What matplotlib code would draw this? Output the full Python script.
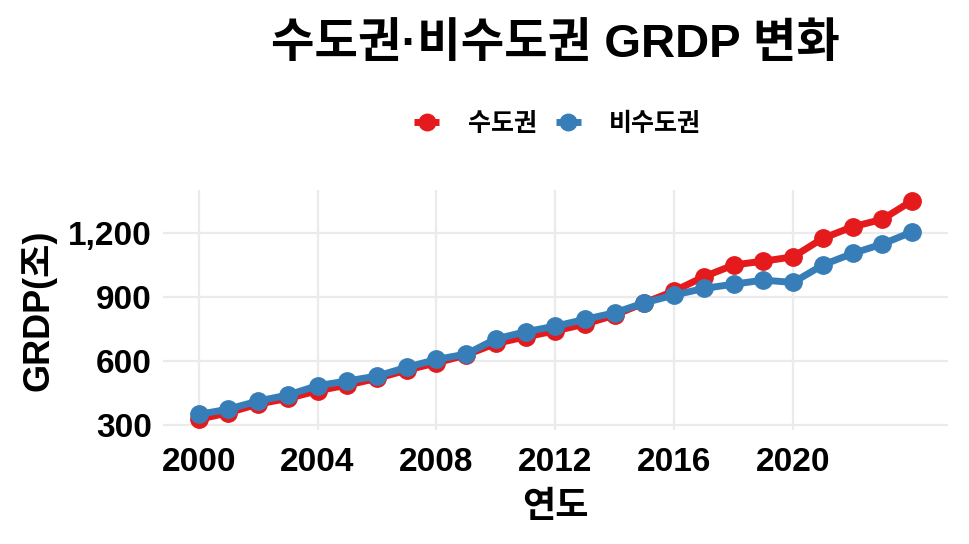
import numpy as np
import matplotlib
matplotlib.use("Agg")
from matplotlib import pyplot as plt
from matplotlib.ticker import FuncFormatter

plt.rcParams['font.family'] = ['Liberation Sans', 'Noto Sans CJK KR', 'DejaVu Sans']
plt.rcParams['font.weight'] = 'bold'

# data
years = list(range(2000, 2025))
capital = [328, 359, 400, 426, 462, 489, 520, 559, 593, 630, 684, 715,
           743, 775, 817, 875, 930, 997, 1052, 1070, 1090, 1177, 1231, 1266, 1353]
non_capital = [351, 376, 414, 442, 486, 508, 531, 572, 609, 634, 705, 739,
               765, 797, 828, 875, 911, 942, 962, 981, 970, 1052, 1106, 1150, 1207]
series_names = ['수도권', '비수도권']
colors = ['#E41A1C', '#377EB8']
x_ticks = [2000, 2004, 2008, 2012, 2016, 2020]
y_ticks = [300, 600, 900, 1200]

fig = plt.figure(figsize=(9.7, 5.44), dpi=100)
ax = fig.add_axes([0.168, 0.209, 0.809, 0.442])

for vals, name, c in zip([capital, non_capital], series_names, colors):
    ax.plot(years, vals, color=c, lw=5, marker='o', ms=12.5, label=name,
            solid_capstyle='butt')

span_x = years[-1] - years[0]
ax.set_xlim(years[0] - 0.05 * span_x, years[-1] + 0.05 * span_x)
lo, hi = min(capital + non_capital), max(capital + non_capital)
ax.set_ylim(lo - 0.05 * (hi - lo), hi + 0.05 * (hi - lo))

ax.set_xticks(x_ticks)
ax.set_yticks(y_ticks)
ax.yaxis.set_major_formatter(FuncFormatter(lambda v, p: f"{int(v):,}"))
ax.tick_params(length=0, labelsize=24, labelcolor='black')
ax.tick_params(axis='x', pad=12)
ax.tick_params(axis='y', pad=8)
for lab in ax.get_xticklabels() + ax.get_yticklabels():
    lab.set_fontweight('bold')

ax.grid(True, color='#EBEBEB', lw=1.6)
ax.set_axisbelow(True)
for s in ax.spines.values():
    s.set_visible(False)

ax.set_xlabel('연도', fontsize=26, fontweight='bold', labelpad=9)
ax.set_ylabel('GRDP(조)', fontsize=26, fontweight='bold', labelpad=8)

fig.text(0.573, 0.918, '수도권·비수도권 GRDP 변화', ha='center', va='center',
         fontsize=34, fontweight='bold')

leg = fig.legend(loc='center', bbox_to_anchor=(0.575, 0.772), ncol=2, frameon=False,
                 fontsize=18, handlelength=1.0, columnspacing=0.75, handletextpad=1.15,
                 markerscale=0.95)
for t in leg.get_texts():
    t.set_fontweight('bold')

fig.savefig('out.png', dpi=100)
